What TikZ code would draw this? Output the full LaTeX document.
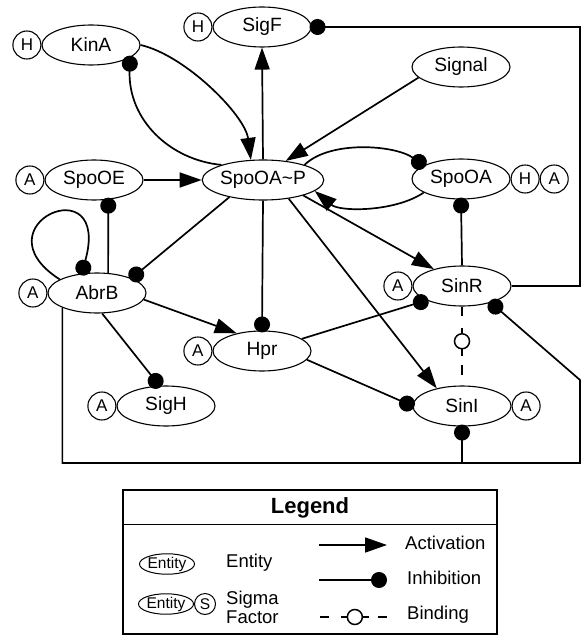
\documentclass[tikz,border=0pt]{standalone}
\usepackage{fontspec}
\setmainfont{Liberation Sans}
\usepackage{tikz}
\usetikzlibrary{arrows.meta, positioning}
\usetikzlibrary{shapes.geometric}

\begin{document}
\begin{tikzpicture}[x=1pt, y=-1pt,
		ent/.style={ellipse, draw, line width=1.1pt, minimum width=98pt, minimum height=40pt, inner sep=0pt, font=\fontsize{19.2}{21}\selectfont},
		tag/.style={circle, draw, line width=1.1pt, minimum size=28pt, inner sep=0pt, font=\fontsize{17}{18}\selectfont},
		act/.style={line width=1.7pt, -{Triangle[length=22pt, width=15pt]}},
		inh/.style={line width=1.7pt, -{Circle[length=16pt]}, shorten >=-2pt},
		bnd/.style={line width=1.7pt, dash pattern=on 9pt off 12pt on 28pt off 9pt on 10pt off 30pt},
		bindc/.style={circle, draw, solid, fill=white, line width=1.5pt, minimum size=15pt, inner sep=0pt},
		lbl/.style={anchor=west, inner sep=0pt, font=\fontsize{18.5}{19}\selectfont}]
	\useasboundingbox (0,0) rectangle (584,636);
	
	\coordinate (Rt) at (580,0);           % right return line
	\coordinate (BotY) at (0,463);         % bottom return line
	\coordinate (RtBend) at (580,380);     
	
	% entities
	\node[ent] (KinA) at (91,45) {KinA};
	\node[tag, left=0pt of KinA] (KinAH) {H};
	\node[ent] (SigF) at (262,27) {SigF};
	\node[tag, left=0pt of SigF] (SigFH) {H};
	\node[ent] (Signal) at (461,67) {Signal};
	\node[ent] (SpoOE) at (94,180) {SpoOE};
	\node[tag, left=0pt of SpoOE] (SpoOEA) {A};
	\node[ent] (SpoOAP) at (263,180) {SpoOA\textasciitilde P};
	\node[ent] (SpoOA) at (461,179) {SpoOA};
	\node[tag, right=0pt of SpoOA] (SpoOAH) {H};
	\node[tag, right=0pt of SpoOAH] (SpoOAA) {A};
	\node[ent] (AbrB) at (97,293) {AbrB};
	\node[tag, left=0pt of AbrB] (AbrBA) {A};
	\node[ent] (SinR) at (462,286) {SinR};
	\node[tag, left=0pt of SinR] (SinRA) {A};
	\node[ent] (Hpr) at (262,351) {Hpr};
	\node[tag, left=0pt of Hpr] (HprA) {A};
	\node[ent] (SigH) at (166,406) {SigH};
	\node[tag, left=0pt of SigH] (SigHA) {A};
	\node[ent] (SinI) at (462,406) {SinI};
	\node[tag, right=0pt of SinI] (SinIA) {A};
	
	% activations
	\draw[act] (KinA.east) .. controls (185,55) and (245,115) .. (SpoOAP.121);
	\draw[act] (SpoOAP.north) -- (SigF.south);
	\draw[act] (Signal.194) -- (SpoOAP.40);
	\draw[act] (SpoOE.east) -- (SpoOAP.west);
	\draw[act] (SpoOA.200) .. controls (395,212) and (340,212) .. (SpoOAP.-12);
	\draw[act] (AbrB.-8) -- (Hpr.145);
	\draw[act] (SpoOAP.-21) -- (SinR.149);
	\draw[act] (SpoOAP.-36) -- (SinI.145);
	
	% inhibitions
	\draw[inh] (SpoOAP.160) .. controls (170,160) and (128,120) .. (KinA.-18);
	\draw[inh] (SpoOAP.20) .. controls (330,140) and (395,145) .. (SpoOA.160);
	\draw[inh] (AbrB.160) .. controls (-25,225) and (112,165) .. (AbrB.128);
	\draw[inh] (AbrB.61) -- (SpoOE.-54);
	\draw[inh] (SpoOAP.207) -- (AbrB.23);
	\draw[inh] (SpoOAP.south) -- (Hpr.north);
	\draw[inh] (AbrB.-76) -- (SigH.108);
	\draw[inh] (SinR.north) -- (SpoOA.south);
	\draw[inh] (Hpr.17) -- (SinR.202);
	\draw[inh] (Hpr.-11) -- (SinI.west);
	\draw[inh] (SinR.east) -- (SinR.east -| Rt) |- (SigF.east);
	\draw[inh] (AbrB.203) -- (AbrB.203 |- BotY) -- (RtBend |- BotY) -- (RtBend) -- (SinR.-30);
	\draw[inh] (SinI.south |- BotY) -- (SinI.south);
	
	% binding
	\draw[bnd] (SinR.south) -- (SinI.north) node[bindc, pos=.44] (SinBind) {};
	
	% legend
	\node[draw, line width=1.2pt, minimum width=374pt, minimum height=144pt, inner sep=0pt] (Legend) at (310,562) {};
	\draw[line width=1.2pt] ([yshift=-35pt]Legend.north west) -- ([yshift=-35pt]Legend.north east);
	\node[font=\bfseries\fontsize{22}{24}\selectfont] (LegTitle) at (310,508) {Legend};
	\node[ellipse, draw, line width=1pt, minimum width=55pt, minimum height=20pt, inner sep=0pt, font=\fontsize{15.5}{16}\selectfont] (LegEnt) at (167,564) {Entity};
	\node[lbl] (LegEntTxt) at (226,563) {Entity};
	\node[ellipse, draw, line width=1pt, minimum width=55pt, minimum height=20pt, inner sep=0pt, font=\fontsize{15.5}{16}\selectfont] (LegSig) at (166,604) {Entity};
	\node[circle, draw, line width=1pt, minimum size=21pt, inner sep=0pt, font=\fontsize{15.5}{16}\selectfont, right=0pt of LegSig] (LegSigS) {S};
	\node[lbl, align=left] (LegSigTxt) at (226,607) {Sigma\\Factor};
	\coordinate (LegA1) at (319,545);
	\coordinate (LegA2) at (387,545);
	\draw[act] (LegA1) -- (LegA2);
	\node[lbl] (LegActTxt) at (405,543) {Activation};
	\coordinate (LegI1) at (319,580);
	\coordinate (LegI2) at (385,580);
	\draw[inh] (LegI1) -- (LegI2);
	\node[lbl] (LegInhTxt) at (407,578) {Inhibition};
	\coordinate (LegB1) at (320,617);
	\coordinate (LegB2) at (387,617);
	\draw[bnd] (LegB1) -- (LegB2) node[bindc, pos=.52] (LegBC) {};
	\node[lbl] (LegBndTxt) at (407,615) {Binding};
\end{tikzpicture}
\end{document}
